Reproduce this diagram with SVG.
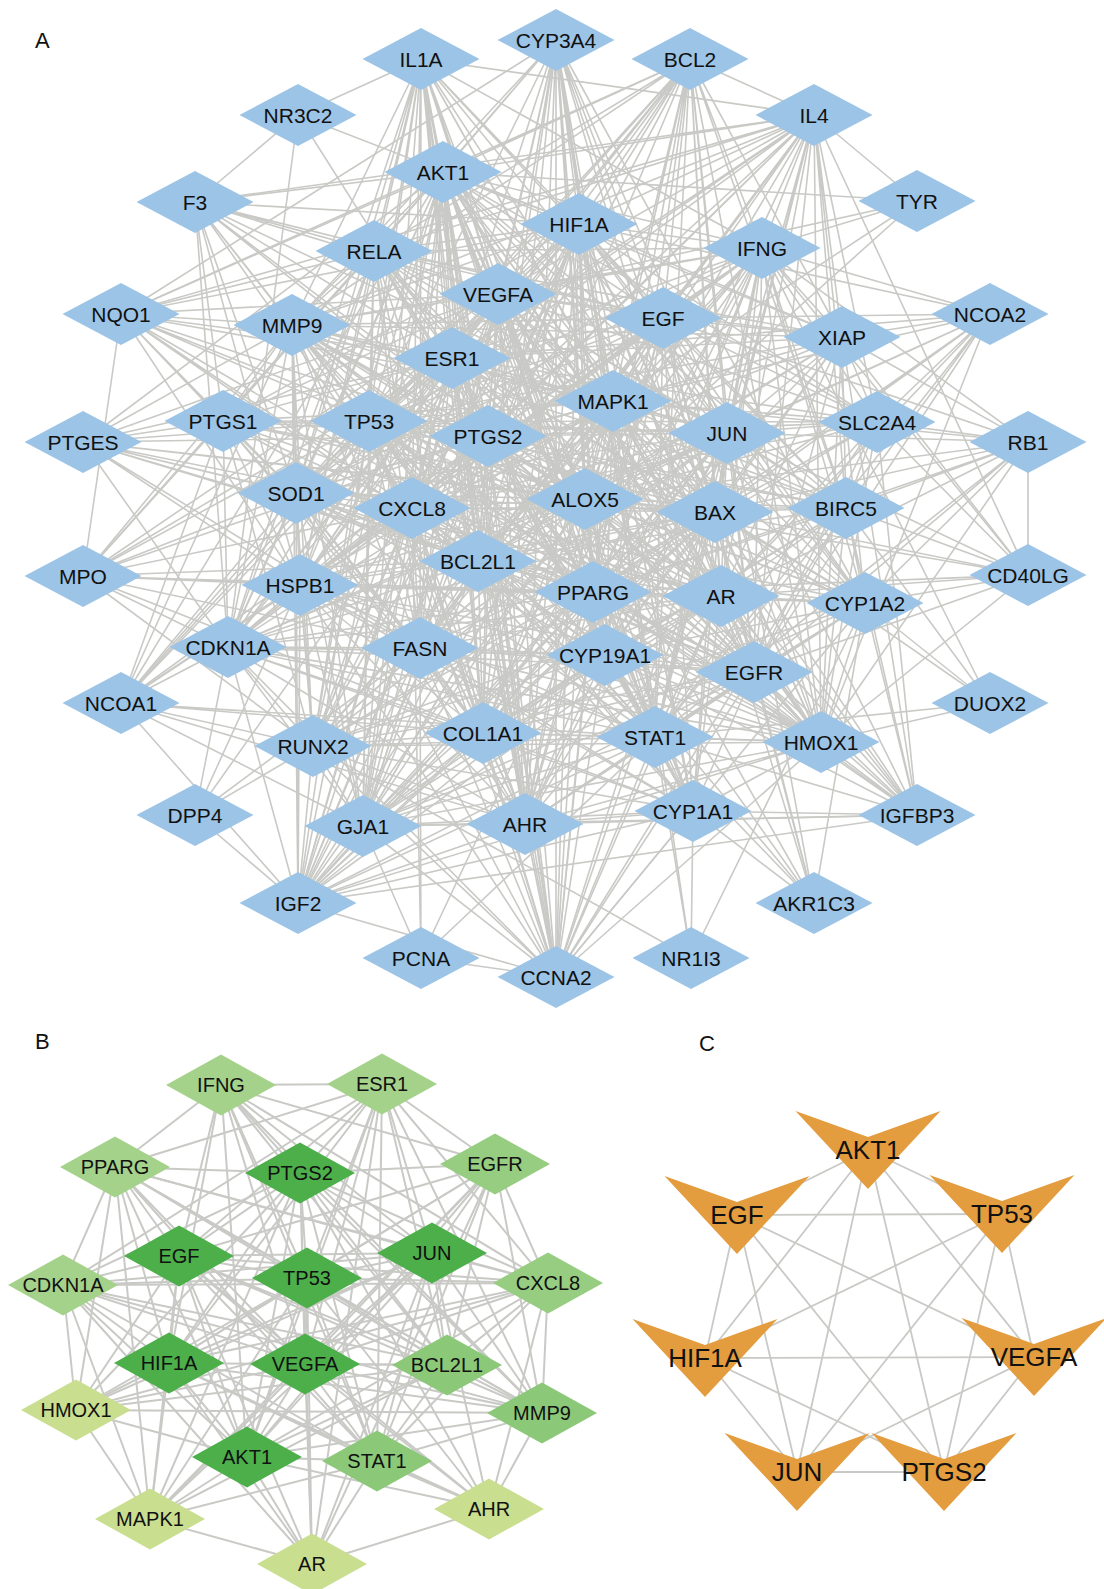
<svg xmlns="http://www.w3.org/2000/svg" width="1104" height="1589" viewBox="0 0 1104 1589">
<style>
.e path{fill:none;stroke:#c9c9c6;stroke-linejoin:round;stroke-linecap:round}
.eA path{stroke-width:1.6}
.eB path{stroke-width:2}
.eC line{stroke:#c9c9c6;stroke-width:1.8}
text{font-family:"Liberation Sans",Arial,Helvetica,sans-serif;text-anchor:middle;fill:#111}
.nA use{fill:#9cc4e6}
.nA text{font-size:21px}
.nB text{font-size:20px}
.g1 use{fill:#4caf4a}
.g2 use{fill:#8bc878}
.g2b use{fill:#96cd80}
.g3 use{fill:#a5d28a}
.g4 use{fill:#c9df8f}
.nC use{fill:#e39c3e}
.nC text{font-size:26px}
.lbl{font-size:22px;text-anchor:start}
</style>
<defs>
<polygon id="dA" points="-58.5,0 0,-31 58.5,0 0,31"/>
<polygon id="dB" points="-55,0 0,-30.5 55,0 0,30.5"/>
<polygon id="vC" points="-72.5,-39 0,-13 72.5,-39 0,39"/>
</defs>
<rect width="1104" height="1589" fill="#fff"/>
<text class="lbl" x="35" y="48">A</text>
<text class="lbl" x="35" y="1049">B</text>
<text class="lbl" x="699" y="1051">C</text>
<g id="connectors" class="e">
<g class="eA">
<path d="M421 59 298 115 421 59 814 115 421 59 443 172 421 59 579 224 421 59 498 294 421 59 452 358 421 59 369 421 421 59 488 436 421 59 613 401 421 59 727 433 421 59 412 508 421 59 585 499 421 59 478 561 421 59 593 592 421 59 300 585 421 59 296 493 421 59 420 648 421 59 483 733 421 59 363 826 421 59 525 824 421 59 556 977 421 59 663 318 421 59 762 248 421 59 715 512 421 59 721 596 421 59 292 325 421 59 374 251 421 59 228 647 421 59 655 737 421 59 313 746"/>
<path d="M556 40 121 314 556 40 443 172 556 40 579 224 556 40 498 294 556 40 452 358 556 40 613 401 556 40 488 436 556 40 369 421 556 40 585 499 556 40 715 512 556 40 593 592 556 40 721 596 556 40 605 655 556 40 655 737 556 40 525 824 556 40 693 811 556 40 556 977 556 40 420 648 556 40 727 433 556 40 865 603 556 40 374 251 556 40 292 325 556 40 478 561 556 40 483 733 556 40 691 958 556 40 663 318"/>
<path d="M690 59 443 172 690 59 121 314 690 59 579 224 690 59 498 294 690 59 452 358 690 59 613 401 690 59 369 421 690 59 488 436 690 59 727 433 690 59 585 499 690 59 715 512 690 59 478 561 690 59 846 508 690 59 842 337 690 59 412 508 690 59 721 596 690 59 754 672 690 59 655 737 690 59 821 742 690 59 762 248 690 59 663 318 690 59 593 592 690 59 292 325 690 59 374 251 690 59 296 493 690 59 814 115 690 59 605 655 690 59 300 585"/>
<path d="M814 115 443 172 814 115 195 202 814 115 121 314 814 115 374 251 814 115 579 224 814 115 498 294 814 115 452 358 814 115 613 401 814 115 369 421 814 115 488 436 814 115 727 433 814 115 762 248 814 115 663 318 814 115 842 337 814 115 877 422 814 115 715 512 814 115 846 508 814 115 585 499 814 115 412 508 814 115 478 561 814 115 593 592 814 115 721 596 814 115 754 672 814 115 655 737 814 115 821 742 814 115 1028 575 814 115 292 325 814 115 296 493 814 115 420 648 814 115 300 585 814 115 917 201 814 115 865 603"/>
<path d="M298 115 195 202 298 115 228 647 298 115 452 358 298 115 579 224"/>
<path d="M443 172 195 202 443 172 579 224 443 172 374 251 443 172 762 248 443 172 498 294 443 172 121 314 443 172 292 325 443 172 663 318 443 172 452 358 443 172 613 401 443 172 369 421 443 172 223 421 443 172 488 436 443 172 727 433 443 172 83 442 443 172 296 493 443 172 412 508 443 172 585 499 443 172 715 512 443 172 846 508 443 172 83 576 443 172 300 585 443 172 478 561 443 172 593 592 443 172 721 596 443 172 865 603 443 172 228 647 443 172 420 648 443 172 605 655 443 172 754 672 443 172 313 746 443 172 483 733 443 172 655 737 443 172 821 742 443 172 363 826 443 172 525 824 443 172 693 811 443 172 298 903 443 172 556 977 443 172 842 337 443 172 877 422 443 172 917 815 443 172 121 703 443 172 917 201"/>
<path d="M195 202 579 224 195 202 374 251 195 202 498 294 195 202 452 358 195 202 292 325 195 202 369 421 195 202 488 436 195 202 296 493 195 202 412 508 195 202 300 585 195 202 223 421 195 202 585 499 195 202 478 561 195 202 228 647 195 202 663 318 195 202 613 401"/>
<path d="M917 201 762 248 917 201 498 294 917 201 585 499 917 201 613 401"/>
<path d="M579 224 374 251 579 224 762 248 579 224 498 294 579 224 292 325 579 224 663 318 579 224 452 358 579 224 613 401 579 224 369 421 579 224 223 421 579 224 488 436 579 224 727 433 579 224 296 493 579 224 412 508 579 224 585 499 579 224 715 512 579 224 846 508 579 224 300 585 579 224 478 561 579 224 593 592 579 224 721 596 579 224 228 647 579 224 420 648 579 224 605 655 579 224 754 672 579 224 483 733 579 224 655 737 579 224 821 742 579 224 363 826 579 224 525 824 579 224 693 811 579 224 298 903 579 224 556 977 579 224 842 337 579 224 877 422 579 224 121 314 579 224 313 746 579 224 865 603 579 224 990 314"/>
<path d="M374 251 498 294 374 251 292 325 374 251 663 318 374 251 452 358 374 251 613 401 374 251 369 421 374 251 488 436 374 251 727 433 374 251 412 508 374 251 585 499 374 251 715 512 374 251 478 561 374 251 593 592 374 251 721 596 374 251 228 647 374 251 420 648 374 251 300 585 374 251 296 493 374 251 655 737 374 251 821 742 374 251 121 314 374 251 762 248 374 251 483 733 374 251 842 337 374 251 363 826 374 251 223 421"/>
<path d="M762 248 498 294 762 248 663 318 762 248 452 358 762 248 613 401 762 248 369 421 762 248 488 436 762 248 727 433 762 248 842 337 762 248 990 314 762 248 877 422 762 248 1028 442 762 248 715 512 762 248 846 508 762 248 585 499 762 248 412 508 762 248 478 561 762 248 593 592 762 248 721 596 762 248 754 672 762 248 655 737 762 248 821 742 762 248 292 325 762 248 296 493 762 248 1028 575 762 248 483 733 762 248 865 603 762 248 420 648 762 248 605 655 762 248 300 585 762 248 525 824 762 248 990 703"/>
<path d="M498 294 292 325 498 294 663 318 498 294 452 358 498 294 613 401 498 294 369 421 498 294 223 421 498 294 488 436 498 294 727 433 498 294 296 493 498 294 412 508 498 294 585 499 498 294 715 512 498 294 846 508 498 294 300 585 498 294 478 561 498 294 593 592 498 294 721 596 498 294 228 647 498 294 420 648 498 294 605 655 498 294 754 672 498 294 483 733 498 294 655 737 498 294 821 742 498 294 363 826 498 294 525 824 498 294 693 811 498 294 298 903 498 294 556 977 498 294 121 314 498 294 313 746 498 294 842 337 498 294 877 422 498 294 83 576 498 294 121 703 498 294 83 442 498 294 917 815"/>
<path d="M121 314 292 325 121 314 452 358 121 314 369 421 121 314 488 436 121 314 223 421 121 314 83 576 121 314 296 493 121 314 412 508 121 314 585 499 121 314 613 401 121 314 300 585 121 314 478 561 121 314 593 592"/>
<path d="M292 325 663 318 292 325 452 358 292 325 613 401 292 325 369 421 292 325 223 421 292 325 488 436 292 325 727 433 292 325 83 442 292 325 296 493 292 325 412 508 292 325 585 499 292 325 715 512 292 325 300 585 292 325 478 561 292 325 593 592 292 325 721 596 292 325 83 576 292 325 228 647 292 325 420 648 292 325 754 672 292 325 483 733 292 325 655 737 292 325 821 742 292 325 313 746 292 325 363 826 292 325 298 903 292 325 121 703 292 325 842 337 292 325 846 508 292 325 605 655 292 325 525 824"/>
<path d="M663 318 452 358 663 318 613 401 663 318 369 421 663 318 488 436 663 318 727 433 663 318 842 337 663 318 877 422 663 318 585 499 663 318 715 512 663 318 846 508 663 318 412 508 663 318 478 561 663 318 593 592 663 318 721 596 663 318 754 672 663 318 655 737 663 318 821 742 663 318 605 655 663 318 420 648 663 318 483 733 663 318 865 603 663 318 296 493 663 318 300 585 663 318 228 647 663 318 1028 442 663 318 990 314 663 318 525 824 663 318 693 811 663 318 363 826"/>
<path d="M990 314 842 337 990 314 452 358 990 314 727 433 990 314 721 596 990 314 715 512 990 314 613 401 990 314 593 592 990 314 846 508 990 314 877 422 990 314 754 672 990 314 821 742 990 314 585 499 990 314 655 737"/>
<path d="M842 337 452 358 842 337 613 401 842 337 369 421 842 337 488 436 842 337 727 433 842 337 715 512 842 337 846 508 842 337 585 499 842 337 412 508 842 337 478 561 842 337 721 596 842 337 754 672 842 337 655 737 842 337 821 742 842 337 877 422 842 337 1028 442 842 337 1028 575 842 337 593 592 842 337 605 655 842 337 917 815"/>
<path d="M452 358 613 401 452 358 369 421 452 358 223 421 452 358 488 436 452 358 727 433 452 358 296 493 452 358 412 508 452 358 585 499 452 358 715 512 452 358 846 508 452 358 300 585 452 358 478 561 452 358 593 592 452 358 721 596 452 358 228 647 452 358 420 648 452 358 605 655 452 358 754 672 452 358 483 733 452 358 655 737 452 358 821 742 452 358 363 826 452 358 525 824 452 358 693 811 452 358 298 903 452 358 556 977 452 358 313 746 452 358 83 576 452 358 121 703 452 358 83 442 452 358 877 422 452 358 865 603"/>
<path d="M613 401 369 421 613 401 488 436 613 401 727 433 613 401 296 493 613 401 412 508 613 401 585 499 613 401 715 512 613 401 846 508 613 401 300 585 613 401 478 561 613 401 593 592 613 401 721 596 613 401 228 647 613 401 420 648 613 401 605 655 613 401 754 672 613 401 483 733 613 401 655 737 613 401 821 742 613 401 363 826 613 401 525 824 613 401 693 811 613 401 298 903 613 401 556 977 613 401 313 746 613 401 877 422 613 401 1028 442 613 401 865 603 613 401 223 421"/>
<path d="M369 421 223 421 369 421 488 436 369 421 727 433 369 421 296 493 369 421 412 508 369 421 585 499 369 421 715 512 369 421 846 508 369 421 300 585 369 421 478 561 369 421 593 592 369 421 721 596 369 421 228 647 369 421 420 648 369 421 605 655 369 421 754 672 369 421 483 733 369 421 655 737 369 421 821 742 369 421 363 826 369 421 525 824 369 421 693 811 369 421 298 903 369 421 556 977 369 421 313 746 369 421 83 442 369 421 83 576 369 421 121 703 369 421 877 422 369 421 865 603 369 421 917 815"/>
<path d="M223 421 488 436 223 421 83 442 223 421 296 493 223 421 412 508 223 421 585 499 223 421 300 585 223 421 478 561 223 421 593 592 223 421 228 647 223 421 420 648 223 421 83 576 223 421 121 703 223 421 727 433 223 421 483 733 223 421 313 746 223 421 715 512 223 421 721 596"/>
<path d="M488 436 727 433 488 436 296 493 488 436 412 508 488 436 585 499 488 436 715 512 488 436 846 508 488 436 300 585 488 436 478 561 488 436 593 592 488 436 721 596 488 436 228 647 488 436 420 648 488 436 605 655 488 436 754 672 488 436 483 733 488 436 655 737 488 436 821 742 488 436 363 826 488 436 525 824 488 436 693 811 488 436 298 903 488 436 556 977 488 436 313 746 488 436 83 442 488 436 83 576 488 436 121 703 488 436 877 422 488 436 865 603"/>
<path d="M727 433 877 422 727 433 1028 442 727 433 296 493 727 433 412 508 727 433 585 499 727 433 715 512 727 433 846 508 727 433 300 585 727 433 478 561 727 433 593 592 727 433 721 596 727 433 1028 575 727 433 865 603 727 433 228 647 727 433 420 648 727 433 605 655 727 433 754 672 727 433 483 733 727 433 655 737 727 433 821 742 727 433 363 826 727 433 525 824 727 433 693 811 727 433 917 815 727 433 298 903 727 433 556 977 727 433 313 746 727 433 814 903"/>
<path d="M877 422 715 512 877 422 846 508 877 422 585 499 877 422 721 596 877 422 754 672 877 422 821 742 877 422 1028 575 877 422 1028 442 877 422 593 592 877 422 412 508 877 422 655 737 877 422 917 815"/>
<path d="M83 442 296 493 83 442 412 508 83 442 300 585 83 442 478 561 83 442 228 647 83 442 585 499 83 442 715 512 83 442 593 592 83 442 420 648 83 442 721 596"/>
<path d="M1028 442 846 508 1028 442 715 512 1028 442 721 596 1028 442 754 672 1028 442 865 603 1028 442 821 742 1028 442 655 737 1028 442 1028 575 1028 442 593 592 1028 442 585 499"/>
<path d="M296 493 412 508 296 493 585 499 296 493 715 512 296 493 300 585 296 493 478 561 296 493 593 592 296 493 721 596 296 493 228 647 296 493 420 648 296 493 605 655 296 493 754 672 296 493 483 733 296 493 655 737 296 493 821 742 296 493 363 826 296 493 525 824 296 493 298 903 296 493 313 746 296 493 83 576 296 493 121 703 296 493 556 977"/>
<path d="M412 508 585 499 412 508 715 512 412 508 846 508 412 508 300 585 412 508 478 561 412 508 593 592 412 508 721 596 412 508 228 647 412 508 420 648 412 508 605 655 412 508 754 672 412 508 483 733 412 508 655 737 412 508 821 742 412 508 363 826 412 508 525 824 412 508 693 811 412 508 298 903 412 508 556 977 412 508 313 746 412 508 83 576 412 508 121 703 412 508 195 815 412 508 421 958 412 508 865 603"/>
<path d="M585 499 715 512 585 499 846 508 585 499 300 585 585 499 478 561 585 499 593 592 585 499 721 596 585 499 1028 575 585 499 865 603 585 499 228 647 585 499 420 648 585 499 605 655 585 499 754 672 585 499 483 733 585 499 655 737 585 499 821 742 585 499 363 826 585 499 525 824 585 499 693 811 585 499 917 815 585 499 298 903 585 499 556 977 585 499 313 746 585 499 814 903"/>
<path d="M715 512 846 508 715 512 300 585 715 512 478 561 715 512 593 592 715 512 721 596 715 512 1028 575 715 512 865 603 715 512 228 647 715 512 420 648 715 512 605 655 715 512 754 672 715 512 483 733 715 512 655 737 715 512 821 742 715 512 363 826 715 512 525 824 715 512 693 811 715 512 917 815 715 512 298 903 715 512 556 977 715 512 990 703 715 512 814 903 715 512 313 746"/>
<path d="M846 508 1028 575 846 508 865 603 846 508 721 596 846 508 754 672 846 508 821 742 846 508 655 737 846 508 478 561 846 508 593 592 846 508 917 815 846 508 990 703 846 508 605 655 846 508 483 733 846 508 556 977"/>
<path d="M83 576 300 585 83 576 478 561 83 576 228 647 83 576 420 648 83 576 593 592 83 576 721 596 83 576 483 733 83 576 313 746"/>
<path d="M300 585 478 561 300 585 593 592 300 585 721 596 300 585 228 647 300 585 420 648 300 585 605 655 300 585 754 672 300 585 483 733 300 585 655 737 300 585 821 742 300 585 363 826 300 585 525 824 300 585 693 811 300 585 298 903 300 585 556 977 300 585 313 746 300 585 121 703 300 585 195 815 300 585 865 603"/>
<path d="M478 561 593 592 478 561 721 596 478 561 228 647 478 561 420 648 478 561 605 655 478 561 754 672 478 561 483 733 478 561 655 737 478 561 821 742 478 561 363 826 478 561 525 824 478 561 693 811 478 561 298 903 478 561 556 977 478 561 313 746 478 561 865 603"/>
<path d="M593 592 721 596 593 592 1028 575 593 592 865 603 593 592 228 647 593 592 420 648 593 592 605 655 593 592 754 672 593 592 483 733 593 592 655 737 593 592 821 742 593 592 363 826 593 592 525 824 593 592 693 811 593 592 917 815 593 592 298 903 593 592 556 977 593 592 313 746 593 592 814 903 593 592 421 958"/>
<path d="M721 596 1028 575 721 596 865 603 721 596 228 647 721 596 420 648 721 596 605 655 721 596 754 672 721 596 483 733 721 596 655 737 721 596 821 742 721 596 363 826 721 596 525 824 721 596 693 811 721 596 917 815 721 596 298 903 721 596 556 977 721 596 814 903 721 596 313 746"/>
<path d="M1028 575 865 603 1028 575 754 672 1028 575 821 742"/>
<path d="M865 603 754 672 865 603 821 742 865 603 655 737 865 603 605 655 865 603 483 733 865 603 693 811 865 603 525 824 865 603 917 815 865 603 990 703 865 603 814 903 865 603 556 977 865 603 363 826 865 603 691 958"/>
<path d="M228 647 420 648 228 647 605 655 228 647 754 672 228 647 483 733 228 647 655 737 228 647 821 742 228 647 363 826 228 647 525 824 228 647 693 811 228 647 298 903 228 647 556 977 228 647 313 746 228 647 121 703 228 647 195 815"/>
<path d="M420 648 605 655 420 648 754 672 420 648 483 733 420 648 655 737 420 648 821 742 420 648 363 826 420 648 525 824 420 648 693 811 420 648 298 903 420 648 556 977 420 648 313 746 420 648 195 815 420 648 421 958"/>
<path d="M605 655 754 672 605 655 483 733 605 655 655 737 605 655 821 742 605 655 363 826 605 655 525 824 605 655 693 811 605 655 917 815 605 655 298 903 605 655 556 977 605 655 313 746 605 655 814 903"/>
<path d="M754 672 483 733 754 672 655 737 754 672 821 742 754 672 363 826 754 672 525 824 754 672 693 811 754 672 917 815 754 672 298 903 754 672 556 977 754 672 814 903 754 672 313 746"/>
<path d="M121 703 313 746 121 703 483 733 121 703 655 737 121 703 363 826 121 703 298 903 121 703 525 824"/>
<path d="M990 703 821 742 990 703 655 737"/>
<path d="M313 746 483 733 313 746 655 737 313 746 821 742 313 746 363 826 313 746 525 824 313 746 693 811 313 746 298 903 313 746 556 977 313 746 195 815 313 746 691 958"/>
<path d="M483 733 655 737 483 733 821 742 483 733 363 826 483 733 525 824 483 733 693 811 483 733 298 903 483 733 556 977"/>
<path d="M655 737 821 742 655 737 363 826 655 737 525 824 655 737 693 811 655 737 917 815 655 737 298 903 655 737 556 977 655 737 814 903 655 737 691 958 655 737 421 958"/>
<path d="M821 742 917 815 821 742 693 811 821 742 525 824 821 742 363 826 821 742 556 977 821 742 298 903"/>
<path d="M195 815 298 903"/>
<path d="M363 826 525 824 363 826 693 811 363 826 298 903 363 826 556 977 363 826 421 958 363 826 917 815"/>
<path d="M525 824 693 811 525 824 298 903 525 824 556 977 525 824 917 815"/>
<path d="M693 811 917 815 693 811 556 977 693 811 691 958 693 811 814 903 693 811 298 903"/>
<path d="M298 903 556 977 298 903 917 815"/>
<path d="M421 958 556 977"/>
</g>
<g class="eB">
<path d="M300 1173 221 1085 300 1173 382 1084 300 1173 115 1167 300 1173 495 1164 300 1173 179 1256 300 1173 307 1278 300 1173 432 1253 300 1173 63 1285 300 1173 548 1283 300 1173 169 1363 300 1173 305 1364 300 1173 447 1365 300 1173 76 1410 300 1173 542 1413 300 1173 247 1457 300 1173 377 1461 300 1173 150 1519 300 1173 489 1509 300 1173 312 1564"/>
<path d="M179 1256 221 1085 179 1256 382 1084 179 1256 115 1167 179 1256 495 1164 179 1256 307 1278 179 1256 432 1253 179 1256 63 1285 179 1256 548 1283 179 1256 169 1363 179 1256 305 1364 179 1256 447 1365 179 1256 76 1410 179 1256 542 1413 179 1256 247 1457 179 1256 377 1461 179 1256 150 1519 179 1256 489 1509 179 1256 312 1564"/>
<path d="M307 1278 221 1085 307 1278 382 1084 307 1278 115 1167 307 1278 495 1164 307 1278 432 1253 307 1278 63 1285 307 1278 548 1283 307 1278 169 1363 307 1278 305 1364 307 1278 447 1365 307 1278 76 1410 307 1278 542 1413 307 1278 247 1457 307 1278 377 1461 307 1278 150 1519 307 1278 489 1509 307 1278 312 1564"/>
<path d="M432 1253 221 1085 432 1253 382 1084 432 1253 115 1167 432 1253 495 1164 432 1253 63 1285 432 1253 548 1283 432 1253 169 1363 432 1253 305 1364 432 1253 447 1365 432 1253 76 1410 432 1253 542 1413 432 1253 247 1457 432 1253 377 1461 432 1253 150 1519 432 1253 489 1509 432 1253 312 1564"/>
<path d="M169 1363 221 1085 169 1363 382 1084 169 1363 115 1167 169 1363 495 1164 169 1363 63 1285 169 1363 548 1283 169 1363 305 1364 169 1363 447 1365 169 1363 76 1410 169 1363 542 1413 169 1363 247 1457 169 1363 377 1461 169 1363 150 1519 169 1363 489 1509 169 1363 312 1564"/>
<path d="M305 1364 221 1085 305 1364 382 1084 305 1364 115 1167 305 1364 495 1164 305 1364 63 1285 305 1364 548 1283 305 1364 447 1365 305 1364 76 1410 305 1364 542 1413 305 1364 247 1457 305 1364 377 1461 305 1364 150 1519 305 1364 489 1509 305 1364 312 1564"/>
<path d="M247 1457 221 1085 247 1457 382 1084 247 1457 115 1167 247 1457 495 1164 247 1457 63 1285 247 1457 548 1283 247 1457 447 1365 247 1457 76 1410 247 1457 542 1413 247 1457 377 1461 247 1457 150 1519 247 1457 489 1509 247 1457 312 1564"/>
<path d="M221 1085 382 1084 221 1085 115 1167 221 1085 548 1283 221 1085 377 1461 221 1085 447 1365 221 1085 542 1413 221 1085 495 1164"/>
<path d="M382 1084 495 1164 382 1084 115 1167 382 1084 548 1283 382 1084 447 1365 382 1084 542 1413 382 1084 63 1285 382 1084 312 1564 382 1084 377 1461"/>
<path d="M115 1167 63 1285 115 1167 447 1365 115 1167 542 1413 115 1167 76 1410 115 1167 377 1461 115 1167 548 1283 115 1167 150 1519"/>
<path d="M63 1285 76 1410 63 1285 447 1365 63 1285 377 1461 63 1285 542 1413 63 1285 548 1283 63 1285 150 1519 63 1285 312 1564"/>
<path d="M495 1164 548 1283 495 1164 542 1413 495 1164 377 1461 495 1164 447 1365 495 1164 150 1519 495 1164 312 1564"/>
<path d="M548 1283 542 1413 548 1283 447 1365 548 1283 377 1461 548 1283 76 1410 548 1283 489 1509"/>
<path d="M447 1365 542 1413 447 1365 377 1461 447 1365 76 1410 447 1365 150 1519"/>
<path d="M542 1413 377 1461 542 1413 489 1509 542 1413 76 1410"/>
<path d="M377 1461 312 1564 377 1461 150 1519 377 1461 489 1509"/>
<path d="M76 1410 150 1519"/>
<path d="M150 1519 312 1564"/>
<path d="M489 1509 312 1564"/>
</g>
<g class="eC">
<line x1="868" y1="1150" x2="737" y2="1215"/>
<line x1="868" y1="1150" x2="1002" y2="1214"/>
<line x1="868" y1="1150" x2="705" y2="1358"/>
<line x1="868" y1="1150" x2="1034" y2="1357"/>
<line x1="868" y1="1150" x2="797" y2="1472"/>
<line x1="868" y1="1150" x2="944" y2="1472"/>
<line x1="737" y1="1215" x2="1002" y2="1214"/>
<line x1="737" y1="1215" x2="705" y2="1358"/>
<line x1="737" y1="1215" x2="1034" y2="1357"/>
<line x1="737" y1="1215" x2="797" y2="1472"/>
<line x1="737" y1="1215" x2="944" y2="1472"/>
<line x1="1002" y1="1214" x2="705" y2="1358"/>
<line x1="1002" y1="1214" x2="1034" y2="1357"/>
<line x1="1002" y1="1214" x2="797" y2="1472"/>
<line x1="1002" y1="1214" x2="944" y2="1472"/>
<line x1="705" y1="1358" x2="1034" y2="1357"/>
<line x1="705" y1="1358" x2="797" y2="1472"/>
<line x1="705" y1="1358" x2="944" y2="1472"/>
<line x1="1034" y1="1357" x2="797" y2="1472"/>
<line x1="1034" y1="1357" x2="944" y2="1472"/>
<line x1="797" y1="1472" x2="944" y2="1472"/>
</g>
</g>
<g id="nodes-A" class="nA">
<g id="A-IL1A"><use href="#dA" x="421" y="59"/><text x="421" y="66.5">IL1A</text></g>
<g id="A-CYP3A4"><use href="#dA" x="556" y="40"/><text x="556" y="47.5">CYP3A4</text></g>
<g id="A-BCL2"><use href="#dA" x="690" y="59"/><text x="690" y="66.5">BCL2</text></g>
<g id="A-IL4"><use href="#dA" x="814" y="115"/><text x="814" y="122.5">IL4</text></g>
<g id="A-NR3C2"><use href="#dA" x="298" y="115"/><text x="298" y="122.5">NR3C2</text></g>
<g id="A-AKT1"><use href="#dA" x="443" y="172"/><text x="443" y="179.5">AKT1</text></g>
<g id="A-F3"><use href="#dA" x="195" y="202"/><text x="195" y="209.5">F3</text></g>
<g id="A-TYR"><use href="#dA" x="917" y="201"/><text x="917" y="208.5">TYR</text></g>
<g id="A-HIF1A"><use href="#dA" x="579" y="224"/><text x="579" y="231.5">HIF1A</text></g>
<g id="A-RELA"><use href="#dA" x="374" y="251"/><text x="374" y="258.5">RELA</text></g>
<g id="A-IFNG"><use href="#dA" x="762" y="248"/><text x="762" y="255.5">IFNG</text></g>
<g id="A-VEGFA"><use href="#dA" x="498" y="294"/><text x="498" y="301.5">VEGFA</text></g>
<g id="A-NQO1"><use href="#dA" x="121" y="314"/><text x="121" y="321.5">NQO1</text></g>
<g id="A-MMP9"><use href="#dA" x="292" y="325"/><text x="292" y="332.5">MMP9</text></g>
<g id="A-EGF"><use href="#dA" x="663" y="318"/><text x="663" y="325.5">EGF</text></g>
<g id="A-NCOA2"><use href="#dA" x="990" y="314"/><text x="990" y="321.5">NCOA2</text></g>
<g id="A-XIAP"><use href="#dA" x="842" y="337"/><text x="842" y="344.5">XIAP</text></g>
<g id="A-ESR1"><use href="#dA" x="452" y="358"/><text x="452" y="365.5">ESR1</text></g>
<g id="A-MAPK1"><use href="#dA" x="613" y="401"/><text x="613" y="408.5">MAPK1</text></g>
<g id="A-TP53"><use href="#dA" x="369" y="421"/><text x="369" y="428.5">TP53</text></g>
<g id="A-PTGS1"><use href="#dA" x="223" y="421"/><text x="223" y="428.5">PTGS1</text></g>
<g id="A-PTGS2"><use href="#dA" x="488" y="436"/><text x="488" y="443.5">PTGS2</text></g>
<g id="A-JUN"><use href="#dA" x="727" y="433"/><text x="727" y="440.5">JUN</text></g>
<g id="A-SLC2A4"><use href="#dA" x="877" y="422"/><text x="877" y="429.5">SLC2A4</text></g>
<g id="A-PTGES"><use href="#dA" x="83" y="442"/><text x="83" y="449.5">PTGES</text></g>
<g id="A-RB1"><use href="#dA" x="1028" y="442"/><text x="1028" y="449.5">RB1</text></g>
<g id="A-SOD1"><use href="#dA" x="296" y="493"/><text x="296" y="500.5">SOD1</text></g>
<g id="A-CXCL8"><use href="#dA" x="412" y="508"/><text x="412" y="515.5">CXCL8</text></g>
<g id="A-ALOX5"><use href="#dA" x="585" y="499"/><text x="585" y="506.5">ALOX5</text></g>
<g id="A-BAX"><use href="#dA" x="715" y="512"/><text x="715" y="519.5">BAX</text></g>
<g id="A-BIRC5"><use href="#dA" x="846" y="508"/><text x="846" y="515.5">BIRC5</text></g>
<g id="A-MPO"><use href="#dA" x="83" y="576"/><text x="83" y="583.5">MPO</text></g>
<g id="A-HSPB1"><use href="#dA" x="300" y="585"/><text x="300" y="592.5">HSPB1</text></g>
<g id="A-BCL2L1"><use href="#dA" x="478" y="561"/><text x="478" y="568.5">BCL2L1</text></g>
<g id="A-PPARG"><use href="#dA" x="593" y="592"/><text x="593" y="599.5">PPARG</text></g>
<g id="A-AR"><use href="#dA" x="721" y="596"/><text x="721" y="603.5">AR</text></g>
<g id="A-CD40LG"><use href="#dA" x="1028" y="575"/><text x="1028" y="582.5">CD40LG</text></g>
<g id="A-CYP1A2"><use href="#dA" x="865" y="603"/><text x="865" y="610.5">CYP1A2</text></g>
<g id="A-CDKN1A"><use href="#dA" x="228" y="647"/><text x="228" y="654.5">CDKN1A</text></g>
<g id="A-FASN"><use href="#dA" x="420" y="648"/><text x="420" y="655.5">FASN</text></g>
<g id="A-CYP19A1"><use href="#dA" x="605" y="655"/><text x="605" y="662.5">CYP19A1</text></g>
<g id="A-EGFR"><use href="#dA" x="754" y="672"/><text x="754" y="679.5">EGFR</text></g>
<g id="A-NCOA1"><use href="#dA" x="121" y="703"/><text x="121" y="710.5">NCOA1</text></g>
<g id="A-DUOX2"><use href="#dA" x="990" y="703"/><text x="990" y="710.5">DUOX2</text></g>
<g id="A-RUNX2"><use href="#dA" x="313" y="746"/><text x="313" y="753.5">RUNX2</text></g>
<g id="A-COL1A1"><use href="#dA" x="483" y="733"/><text x="483" y="740.5">COL1A1</text></g>
<g id="A-STAT1"><use href="#dA" x="655" y="737"/><text x="655" y="744.5">STAT1</text></g>
<g id="A-HMOX1"><use href="#dA" x="821" y="742"/><text x="821" y="749.5">HMOX1</text></g>
<g id="A-DPP4"><use href="#dA" x="195" y="815"/><text x="195" y="822.5">DPP4</text></g>
<g id="A-GJA1"><use href="#dA" x="363" y="826"/><text x="363" y="833.5">GJA1</text></g>
<g id="A-AHR"><use href="#dA" x="525" y="824"/><text x="525" y="831.5">AHR</text></g>
<g id="A-CYP1A1"><use href="#dA" x="693" y="811"/><text x="693" y="818.5">CYP1A1</text></g>
<g id="A-IGFBP3"><use href="#dA" x="917" y="815"/><text x="917" y="822.5">IGFBP3</text></g>
<g id="A-IGF2"><use href="#dA" x="298" y="903"/><text x="298" y="910.5">IGF2</text></g>
<g id="A-AKR1C3"><use href="#dA" x="814" y="903"/><text x="814" y="910.5">AKR1C3</text></g>
<g id="A-PCNA"><use href="#dA" x="421" y="958"/><text x="421" y="965.5">PCNA</text></g>
<g id="A-CCNA2"><use href="#dA" x="556" y="977"/><text x="556" y="984.5">CCNA2</text></g>
<g id="A-NR1I3"><use href="#dA" x="691" y="958"/><text x="691" y="965.5">NR1I3</text></g>
</g>
<g id="nodes-B" class="nB">
<g id="B-IFNG" class="g3"><use href="#dB" x="221" y="1085"/><text x="221" y="1092">IFNG</text></g>
<g id="B-ESR1" class="g3"><use href="#dB" x="382" y="1084"/><text x="382" y="1091">ESR1</text></g>
<g id="B-PPARG" class="g3"><use href="#dB" x="115" y="1167"/><text x="115" y="1174">PPARG</text></g>
<g id="B-PTGS2" class="g1"><use href="#dB" x="300" y="1173"/><text x="300" y="1180">PTGS2</text></g>
<g id="B-EGFR" class="g2b"><use href="#dB" x="495" y="1164"/><text x="495" y="1171">EGFR</text></g>
<g id="B-EGF" class="g1"><use href="#dB" x="179" y="1256"/><text x="179" y="1263">EGF</text></g>
<g id="B-TP53" class="g1"><use href="#dB" x="307" y="1278"/><text x="307" y="1285">TP53</text></g>
<g id="B-JUN" class="g1"><use href="#dB" x="432" y="1253"/><text x="432" y="1260">JUN</text></g>
<g id="B-CDKN1A" class="g3"><use href="#dB" x="63" y="1285"/><text x="63" y="1292">CDKN1A</text></g>
<g id="B-CXCL8" class="g2b"><use href="#dB" x="548" y="1283"/><text x="548" y="1290">CXCL8</text></g>
<g id="B-HIF1A" class="g1"><use href="#dB" x="169" y="1363"/><text x="169" y="1370">HIF1A</text></g>
<g id="B-VEGFA" class="g1"><use href="#dB" x="305" y="1364"/><text x="305" y="1371">VEGFA</text></g>
<g id="B-BCL2L1" class="g2"><use href="#dB" x="447" y="1365"/><text x="447" y="1372">BCL2L1</text></g>
<g id="B-HMOX1" class="g4"><use href="#dB" x="76" y="1410"/><text x="76" y="1417">HMOX1</text></g>
<g id="B-MMP9" class="g2"><use href="#dB" x="542" y="1413"/><text x="542" y="1420">MMP9</text></g>
<g id="B-AKT1" class="g1"><use href="#dB" x="247" y="1457"/><text x="247" y="1464">AKT1</text></g>
<g id="B-STAT1" class="g2"><use href="#dB" x="377" y="1461"/><text x="377" y="1468">STAT1</text></g>
<g id="B-MAPK1" class="g4"><use href="#dB" x="150" y="1519"/><text x="150" y="1526">MAPK1</text></g>
<g id="B-AHR" class="g4"><use href="#dB" x="489" y="1509"/><text x="489" y="1516">AHR</text></g>
<g id="B-AR" class="g4"><use href="#dB" x="312" y="1564"/><text x="312" y="1571">AR</text></g>
</g>
<g id="nodes-C" class="nC">
<g id="C-AKT1"><use href="#vC" x="868" y="1150"/><text x="868" y="1159">AKT1</text></g>
<g id="C-EGF"><use href="#vC" x="737" y="1215"/><text x="737" y="1224">EGF</text></g>
<g id="C-TP53"><use href="#vC" x="1002" y="1214"/><text x="1002" y="1223">TP53</text></g>
<g id="C-HIF1A"><use href="#vC" x="705" y="1358"/><text x="705" y="1367">HIF1A</text></g>
<g id="C-VEGFA"><use href="#vC" x="1034" y="1357"/><text x="1034" y="1366">VEGFA</text></g>
<g id="C-JUN"><use href="#vC" x="797" y="1472"/><text x="797" y="1481">JUN</text></g>
<g id="C-PTGS2"><use href="#vC" x="944" y="1472"/><text x="944" y="1481">PTGS2</text></g>
</g>
</svg>
